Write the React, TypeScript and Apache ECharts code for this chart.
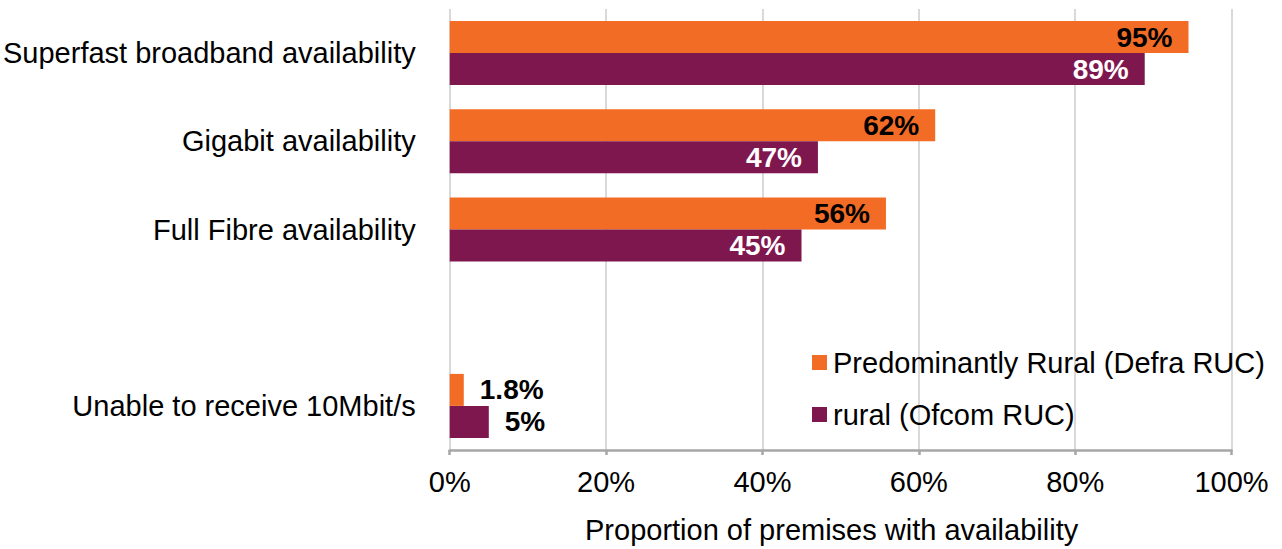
import React, { useEffect, useRef } from "react";
import * as echarts from "echarts";

const categories = [
  "Superfast broadband availability",
  "Gigabit availability",
  "Full Fibre availability",
  "",
  "Unable to receive 10Mbit/s",
];
const seriesNames = ["Predominantly Rural (Defra RUC)", "rural (Ofcom RUC)"];
const defraValues: (number | null)[] = [94.5, 62.1, 55.8, null, 1.8];
const ofcomValues: (number | null)[] = [88.9, 47.1, 45.0, null, 5.0];
const xTicks = [0, 20, 40, 60, 80, 100];
const outsideLabelIndex = 4;

const FONT = "'Liberation Sans', Arial, sans-serif";
const ORANGE = "#F36C26";
const PURPLE = "#7F174F";
const FS = 29;

const fmt = (v: number) => (v < 2 ? v.toFixed(1) : String(Math.round(v))) + "%";

function buildData(values: (number | null)[]) {
  return values.map((v, i) => {
    if (v === null) return "-";
    if (i === outsideLabelIndex) {
      return { value: v, label: { position: "right", color: "#000" } };
    }
    return v;
  });
}

export default function App() {
  const ref = useRef<HTMLDivElement>(null);
  useEffect(() => {
    if (!ref.current) return;
    const chart = echarts.init(ref.current, null, { renderer: "svg" });
    const labelBase = {
      show: true,
      position: "insideRight",
      distance: 16,
      fontFamily: FONT,
      fontSize: 28,
      fontWeight: "bold",
      formatter: (p: any) => fmt(p.value),
    };
    chart.setOption({
      animation: false,
      textStyle: { fontFamily: FONT },
      grid: { left: 449, right: 50.5, top: 9, bottom: 94, containLabel: false },
      legend: {
        orient: "vertical",
        left: 807,
        top: 343,
        itemWidth: 15,
        itemHeight: 15,
        itemGap: 23,
        icon: "rect",
        data: seriesNames,
        textStyle: { fontFamily: FONT, fontSize: FS, color: "#000", padding: [0, 0, 0, 1] },
      },
      xAxis: {
        type: "value",
        min: 0,
        max: 100,
        interval: 20,
        name: "Proportion of premises with availability",
        nameLocation: "middle",
        nameGap: 65,
        nameTextStyle: { fontFamily: FONT, fontSize: FS, color: "#000", padding: [0, 18, 0, 0] },
        axisLine: { show: true, lineStyle: { color: "#A6A6A6", width: 2.5 } },
        axisTick: { show: true, length: 5, lineStyle: { color: "#A6A6A6", width: 2.5 } },
        axisLabel: {
          margin: 17,
          fontFamily: FONT,
          fontSize: FS,
          color: "#000",
          formatter: (v: number) => (xTicks.includes(v) ? v + "%" : ""),
        },
        splitLine: { show: true, lineStyle: { color: "#D9D9D9", width: 2 } },
      },
      yAxis: {
        type: "category",
        inverse: true,
        data: categories,
        axisLine: { show: false },
        axisTick: { show: false },
        axisLabel: { margin: 34, fontFamily: FONT, fontSize: FS, color: "#000" },
      },
      series: [
        {
          name: seriesNames[0],
          type: "bar",
          barWidth: 32,
          barGap: "0%",
          itemStyle: { color: ORANGE },
          label: { ...labelBase, color: "#000" },
          data: buildData(defraValues),
        },
        {
          name: seriesNames[1],
          type: "bar",
          barWidth: 32,
          barGap: "0%",
          itemStyle: { color: PURPLE },
          label: { ...labelBase, color: "#fff" },
          data: buildData(ofcomValues),
        },
      ],
    });
    return () => chart.dispose();
  }, []);
  return (
    <div
      ref={ref}
      style={{ position: "fixed", left: 0, top: 0, width: 1282, height: 549, background: "#fff" }}
    />
  );
}
